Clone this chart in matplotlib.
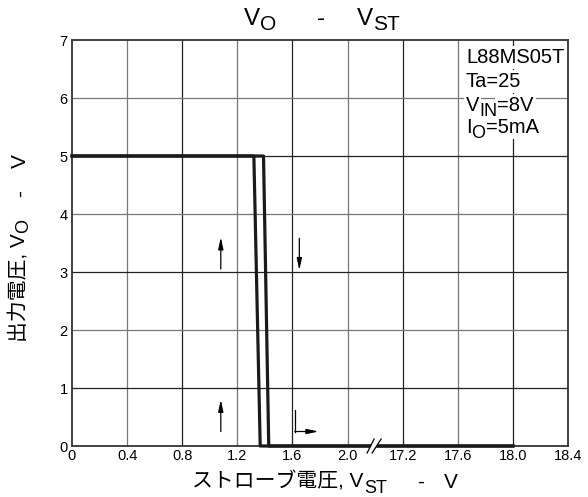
import numpy as np
import matplotlib.pyplot as plt
from matplotlib.lines import Line2D
from matplotlib.patches import Polygon

W, H = 588, 497
FAM = ['Liberation Sans', 'Noto Sans CJK JP', 'DejaVu Sans']
plt.rcParams['font.family'] = FAM

# hysteresis curves, real volts
x_rise = [0, 1.32, 1.366, 18.0]
y_rise = [5, 5, 0, 0]
x_fall = [0, 1.39, 1.428, 18.0]
y_fall = [5, 5, 0, 0]

xtick_vals = [0, 0.4, 0.8, 1.2, 1.6, 2.0, 17.2, 17.6, 18.0, 18.4]
xtick_labels = ['0', '0.4', '0.8', '1.2', '1.6', '2.0', '17.2', '17.6', '18.0', '18.4']
ytick_vals = [0, 1, 2, 3, 4, 5, 6, 7]


def u(x):
    # broken axis: 2.2 .. 17.0 is cut out
    x = np.asarray(x, float)
    return np.where(x <= 2.2, x, x - 14.8)


fig = plt.figure(figsize=(W / 100, H / 100), dpi=100)
L, R, T, B = 72, 568, 40, 446
ax = fig.add_axes([L / W, 1 - B / H, (R - L) / W, (B - T) / H])
ax.set_xlim(0, 3.6)
ax.set_ylim(0, 7)
ax.set_xticks(u(xtick_vals))
ax.set_xticklabels(xtick_labels)
ax.set_yticks(ytick_vals)
ax.tick_params(length=0, labelsize=10.5, pad=2)
ax.tick_params(axis='y', pad=3)

for i, xv in enumerate(u(xtick_vals)[1:-1]):
    ax.axvline(xv, color='#777777' if i % 2 == 0 else '#222222', lw=0.9, zorder=0)
for v in ytick_vals[1:-1]:
    ax.axhline(v, color='#222222' if v % 2 else '#777777', lw=0.9, zorder=0)
for s in ax.spines.values():
    s.set_color('#333333')
    s.set_linewidth(1.3)

ax.plot(u(x_rise), y_rise, color='#1a1a1a', lw=2.3, clip_on=False, zorder=4)
ax.plot(u(x_fall), y_fall, color='#1a1a1a', lw=2.3, clip_on=False, zorder=4)

arr = dict(arrowstyle='-|>,head_length=0.7,head_width=0.15', color='black',
           lw=0.9, shrinkA=0, shrinkB=0)
ax.annotate('', xy=(1.08, 3.6), xytext=(1.08, 3.05), arrowprops=arr)
ax.annotate('', xy=(1.08, 0.8), xytext=(1.08, 0.25), arrowprops=arr)
ax.annotate('', xy=(1.65, 3.03), xytext=(1.65, 3.58), arrowprops=arr)
ax.plot([1.617, 1.617], [0.62, 0.25], color='black', lw=0.9)
ax.annotate('', xy=(1.79, 0.25), xytext=(1.617, 0.25), arrowprops=arr)

# axis break marks
bx = L + 2.2 / 3.6 * (R - L)
by = B


def fp(x, y):
    return (x / W, 1 - y / H)


fig.add_artist(Polygon([fp(bx - 8, by + 7), fp(bx - 1, by - 6), fp(bx + 6, by - 7),
                        fp(bx - 2, by + 7)], closed=True, facecolor='white',
                       edgecolor='none', zorder=5))
for dx0, dx1 in [(-8, -1), (-3, 6)]:
    fig.add_artist(Line2D([(bx + dx0) / W, (bx + dx1) / W],
                          [1 - (by + 7) / H, 1 - (by - 7) / H],
                          color='black', lw=0.9, zorder=6))

renderer = fig.canvas.get_renderer()


def rich(x, y, parts, rot=0, align='center', bg=False):
    # parts: (text, gap before in px, shift down in px, fontsize)
    widths = []
    for s, gap, dy, sz in parts:
        t = fig.text(0, 0, s, fontsize=sz)
        widths.append(t.get_window_extent(renderer).width)
        t.remove()
    total = sum(widths) + sum(p[1] for p in parts)
    pos = -total / 2 if align == 'center' else 0
    for (s, gap, dy, sz), w in zip(parts, widths):
        pos += gap
        if rot == 0:
            px, py = x + pos, y + dy
        else:
            px, py = x + dy, y - pos
        kw = dict(fontsize=sz, rotation=rot, rotation_mode='anchor',
                  ha='left', va='baseline')
        if bg:
            # white patch under the text, drawn below every label
            fig.text(px / W, 1 - py / H, s, color='none', zorder=6,
                     bbox=dict(facecolor='white', edgecolor='none', pad=1.5), **kw)
        fig.text(px / W, 1 - py / H, s, zorder=7, **kw)
        pos += w


# title
rich(322, 25, [('V', 0, 0, 17.5), ('O', 0, 5, 15), ('-', 40, 0, 17.5),
               ('V', 32, 0, 17.5), ('ST', 0, 5, 15)])
# x label
rich(325, 488, [('ストローブ電圧, V', 0, 0, 15), ('ST', 0, 5, 13),
                ('-', 30, 0, 15), ('V', 20, 0, 15)])
# y label
rich(26, 248, [('出力電圧, V', 0, 0, 15), ('O', 0, 2, 13),
               ('-', 22, 0, 15), ('V', 22, 0, 15)], rot=90)

# condition box
bx0 = 466
rich(bx0, 63, [('L88MS05T', 0, 0, 14.5)], align='left', bg=True)
rich(bx0, 87, [('Ta=25', 0, 0, 14.5)], align='left', bg=True)
rich(bx0, 111, [('V', 0, 0, 14.5), ('IN', 0, 5, 13), ('=8V', 0, 0, 14.5)],
     align='left', bg=True)
rich(bx0, 133, [('I', 0, 0, 14.5), ('O', 0, 5, 13), ('=5mA', 0, 0, 14.5)],
     align='left', bg=True)

fig.savefig('out.png', dpi=100)
